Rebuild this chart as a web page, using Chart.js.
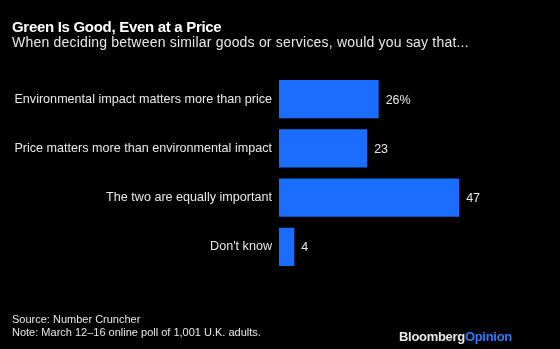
<!DOCTYPE html>
<html>
<head>
<meta charset="utf-8">
<script src="https://cdn.jsdelivr.net/npm/chart.js@4"></script>
<style>
  html, body { margin: 0; padding: 0; background: #000; }
  #wrap { position: relative; width: 560px; height: 349px; overflow: hidden; font-family: 'Liberation Sans', Arial, sans-serif; }
  #wrap canvas { position: absolute; left: 0; top: 0; }
  .txt { position: absolute; white-space: nowrap; color: #e8e8e8; }
  #title { left: 12px; top: 18px; font-size: 15px; font-weight: bold; color: #fff; letter-spacing: -0.3px; }
  #subtitle { left: 12px; top: 34px; font-size: 14px; letter-spacing: 0.2px; }
  #source { left: 12px; top: 313px; font-size: 11px; line-height: 13px; }
  #logo { left: 399px; top: 329px; font-size: 13px; font-weight: bold; color: #e8e8e8; letter-spacing: -0.3px; }
  #logo span { color: #2a7bff; }
</style>
</head>
<body>
<div id="wrap">
  <canvas id="chart" width="560" height="349"></canvas>
  <div class="txt" id="title">Green Is Good, Even at a Price</div>
  <div class="txt" id="subtitle">When deciding between similar goods or services, would you say that...</div>
  <div class="txt" id="source">Source: Number Cruncher<br>Note: March 12–16 online poll of 1,001 U.K. adults.</div>
  <div class="txt" id="logo">Bloomberg<span>Opinion</span></div>
</div>
<script>
const categories = [
    'Environmental impact matters more than price',
    'Price matters more than environmental impact',
    'The two are equally important',
    "Don't know"
];
const shares = [26, 23, 47, 4];
const valueLabels = ['26%', '23', '47', '4'];

const barColor = '#1a6dff';
const textColor = '#e8e8e8';
const fontFamily = "'Liberation Sans', Arial, sans-serif";

// draws the number at the end of every bar
const valueLabelPlugin = {
    id: 'valueLabels',
    afterDatasetsDraw(chart) {
        const ctx = chart.ctx;
        const meta = chart.getDatasetMeta(0);
        ctx.save();
        ctx.fillStyle = textColor;
        ctx.font = `12.5px ${fontFamily}`;
        ctx.textAlign = 'left';
        ctx.textBaseline = 'middle';
        meta.data.forEach((bar, i) => {
            ctx.fillText(valueLabels[i], bar.x + 7, bar.y + 1);
        });
        ctx.restore();
    }
};

new Chart(document.getElementById('chart'), {
    type: 'bar',
    data: {
        labels: categories,
        datasets: [{
            data: shares,
            backgroundColor: barColor,
            borderWidth: 0,
            categoryPercentage: 1,
            barPercentage: 0.78
        }]
    },
    options: {
        indexAxis: 'y',
        responsive: false,
        animation: false,
        layout: { padding: { top: 74.5, bottom: 77.5, left: 0, right: 51 } },
        scales: {
            x: { display: false, min: 0, max: 60 },
            y: {
                grid: { display: false, drawTicks: false },
                border: { display: false },
                afterFit(scale) { scale.width = 279; },
                ticks: {
                    color: textColor,
                    padding: 7,
                    font: { family: fontFamily, size: 12.6 }
                }
            }
        },
        plugins: {
            legend: { display: false },
            tooltip: { enabled: false }
        }
    },
    plugins: [valueLabelPlugin]
});
</script>
</body>
</html>
